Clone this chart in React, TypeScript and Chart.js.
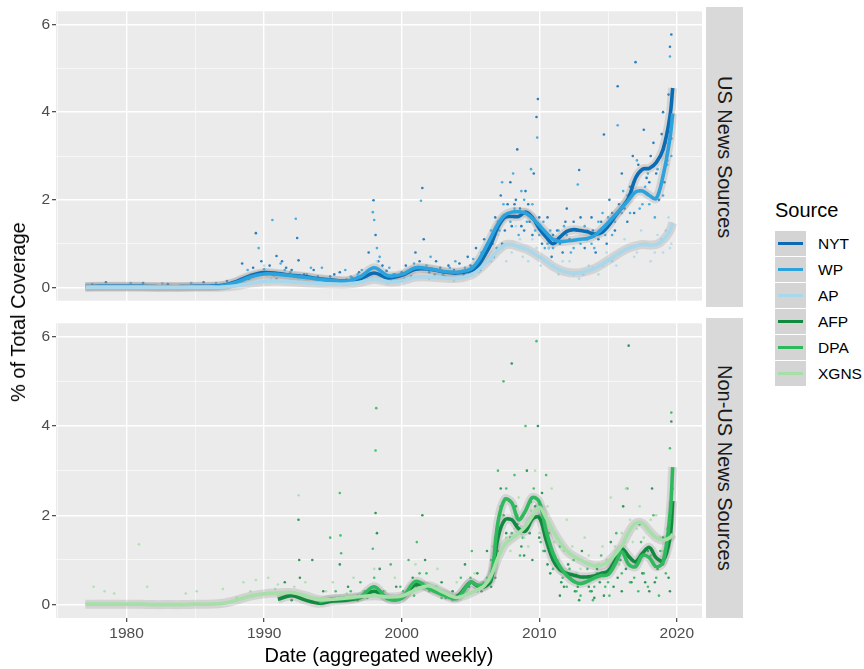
import React, { useEffect, useRef } from 'react';
import { Chart, registerables } from 'chart.js';
Chart.register(...registerables);

const FONT = '"Liberation Sans", Arial, Helvetica, sans-serif';

// x positions of the smoothed-line samples (years)
const years = [
  1977, 1978, 1979, 1980, 1981, 1982, 1983, 1984, 1985, 1986, 1987, 1988, 1989, 1990, 1991,
  1992, 1993, 1994, 1995, 1996, 1997, 1998, 1999, 2000, 2001, 2002, 2003, 2004, 2005,
  2005.5, 2006, 2006.5, 2007, 2007.5, 2008, 2008.5, 2009, 2009.5, 2010, 2010.5, 2011, 2011.5,
  2012, 2012.5, 2013, 2013.5, 2014, 2014.5, 2015, 2015.5, 2016, 2016.5, 2017, 2017.5, 2018,
  2018.5, 2019, 2019.5, 2019.7,
];

// US sources (smoothed % of coverage)
const nytLine = [
  0.02, 0.03, 0.03, 0.03, 0.03, 0.02, 0.02, 0.02, 0.03, 0.03, 0.05,
  0.14, 0.27, 0.34, 0.32, 0.28, 0.25, 0.20, 0.17, 0.15, 0.20, 0.33, 0.22, 0.28, 0.42, 0.42, 0.36, 0.33, 0.38,
  0.48, 0.72, 1.00, 1.38, 1.60, 1.62, 1.62, 1.72, 1.60, 1.35, 1.15, 1.00, 1.15, 1.28, 1.32, 1.30, 1.27,
  1.22, 1.25, 1.40, 1.62, 1.82, 2.05, 2.50, 2.70, 2.72, 2.85, 3.15, 3.90,
  4.55,
];
const wpLine = [
  0.01, 0.02, 0.02, 0.02, 0.02, 0.01, 0.01, 0.01, 0.02, 0.02, 0.04,
  0.12, 0.24, 0.31, 0.30, 0.27, 0.23, 0.19, 0.16, 0.15, 0.25, 0.45, 0.27, 0.30, 0.45, 0.43, 0.37, 0.35, 0.42,
  0.58, 0.85, 1.15, 1.45, 1.65, 1.72, 1.73, 1.70, 1.58, 1.42, 1.25, 1.10, 1.05, 1.06, 1.08, 1.10, 1.12,
  1.18, 1.32, 1.48, 1.65, 1.82, 2.00, 2.18, 2.20, 2.10, 2.03, 2.55, 3.40,
  3.97,
];
const apLine = [
  0.01, 0.01, 0.01, 0.01, 0.01, 0.01, 0.01, 0.01, 0.01, 0.01, 0.01,
  0.04, 0.10, 0.14, 0.15, 0.13, 0.11, 0.09, 0.08, 0.08, 0.12, 0.19, 0.13, 0.15, 0.24, 0.24, 0.22, 0.21, 0.28,
  0.38, 0.52, 0.68, 0.85, 0.97, 0.98, 0.93, 0.88, 0.80, 0.70, 0.60, 0.48, 0.40, 0.35, 0.33, 0.34, 0.38,
  0.43, 0.52, 0.62, 0.72, 0.82, 0.90, 0.95, 0.98, 0.97, 0.98, 1.08, 1.30,
  1.48,
];

// Non-US sources
const afpLine = [
  null, null, null, null, null, null, null, null, null, null, null, null, null, null,
  0.12, 0.20, 0.10, 0.03, 0.08, 0.10, 0.16, 0.30, 0.15, 0.15, 0.45, 0.38, 0.25, 0.18, 0.50,
  0.42, 0.40, 0.55, 1.50, 1.90, 1.90, 1.70, 1.65, 1.92, 1.95, 1.45, 1.00, 0.78, 0.70, 0.66, 0.62, 0.62,
  0.64, 0.70, 0.75, 0.98, 1.25, 1.08, 0.96, 1.15, 1.28, 1.05, 0.98, 1.50,
  2.32,
];
const dpaLine = [
  null, null, null, null, null, null, null, null, null, null, null, null, null, null, null, null, null,
  0.06, 0.13, 0.14, 0.18, 0.40, 0.13, 0.14, 0.52, 0.36, 0.22, 0.14, 0.50,
  0.44, 0.45, 0.62, 1.85, 2.36, 2.28, 1.90, 2.10, 2.40, 2.30, 1.65, 1.15, 0.85, 0.65, 0.52, 0.47, 0.52,
  0.60, 0.65, 0.67, 0.90, 1.18, 0.90, 0.85, 1.10, 1.05, 0.85, 0.95, 2.00,
  3.08,
];
const xgnsLine = [
  0.01, 0.01, 0.01, 0.01, 0.01, 0.00, 0.00, 0.00, 0.01, 0.01, 0.03,
  0.10, 0.19, 0.24, 0.26, 0.27, 0.20, 0.11, 0.12, 0.15, 0.18, 0.20, 0.17, 0.19, 0.33, 0.42, 0.28, 0.16, 0.26,
  0.33, 0.42, 0.65, 1.05, 1.35, 1.48, 1.60, 1.75, 1.98, 2.18, 1.95, 1.65, 1.40, 1.20, 1.08, 1.00, 0.92,
  0.87, 0.88, 0.96, 1.12, 1.32, 1.62, 1.82, 1.82, 1.65, 1.50, 1.44, 1.50,
  1.58,
];

const nytDots = [
  [1978.5, 0.12], [1981.2, 0.1], [1983.0, 0.08], [1985.6, 0.12], [1987.3, 0.15], [1988.4, 0.55], [1989.4, 1.24],
  [1989.8, 0.6], [1990.4, 0.5], [1990.9, 0.72], [1991.6, 0.45], [1992.4, 1.13], [1992.5, 0.62], [1993.6, 0.4],
  [1994.8, 0.25], [1995.5, 0.35], [1996.4, 0.22], [1997.6, 0.8], [1997.95, 1.99], [1998.1, 1.2], [1998.6, 0.5],
  [1999.5, 0.3], [2000.3, 0.5], [2001.0, 0.8], [2001.5, 2.27], [2001.6, 1.1], [2002.5, 0.6], [2003.4, 0.5],
  [2004.2, 0.55], [2004.8, 0.7], [2005.4, 0.9], [2006.0, 1.1], [2006.3, 0.6], [2006.8, 1.6], [2007.2, 2.1],
  [2007.5, 1.3], [2007.9, 2.4], [2008.2, 1.9], [2008.4, 3.15], [2008.7, 1.4], [2009.0, 2.2], [2009.3, 1.5],
  [2009.8, 3.89], [2009.9, 4.3], [2010.2, 1.0], [2010.6, 1.6], [2010.9, 0.7], [2011.3, 1.3], [2011.7, 0.8],
  [2012.0, 1.8], [2012.5, 1.5], [2012.9, 2.68], [2013.3, 0.9], [2013.8, 1.6], [2014.3, 1.1], [2014.7, 3.49],
  [2015.1, 2.0], [2015.5, 1.3], [2015.7, 4.59], [2016.0, 2.6], [2016.4, 1.5], [2016.8, 3.0], [2017.0, 5.14],
  [2017.3, 2.2], [2017.6, 3.6], [2018.0, 2.4], [2018.3, 3.3], [2018.7, 2.0], [2019.0, 4.0], [2019.3, 2.9],
  [2019.5, 5.49], [2019.6, 5.77], [2019.4, 4.4],
  [1988.9, 0.2], [1989.2, 0.45], [1989.9, 0.35], [1990.7, 0.28], [1991.3, 0.6], [1992.0, 0.4], [1992.9, 0.3],
  [1993.9, 0.25], [1994.4, 0.12], [1995.1, 0.3], [1996.0, 0.18], [1996.9, 0.35], [1997.3, 0.28], [1998.3, 0.6],
  [1998.9, 0.38], [1999.2, 0.15], [2000.0, 0.35], [2000.7, 0.25], [2001.3, 0.6], [2002.0, 0.35], [2002.8, 0.45],
  [2003.1, 0.25], [2003.8, 0.4], [2004.5, 0.3], [2005.0, 0.5], [2005.7, 0.4], [2006.1, 0.8], [2006.6, 1.0],
  [2007.0, 1.5], [2007.3, 1.0], [2007.7, 1.9], [2008.0, 1.4], [2008.3, 2.0], [2008.6, 1.8], [2008.9, 1.3],
  [2009.2, 1.9], [2009.5, 1.2], [2009.6, 2.6], [2010.0, 1.6], [2010.4, 1.2], [2010.7, 0.9], [2011.0, 1.2],
  [2011.5, 1.0], [2011.9, 1.5], [2012.2, 1.1], [2012.7, 1.3], [2013.0, 1.6], [2013.5, 1.1], [2013.9, 1.3],
  [2014.1, 0.8], [2014.5, 1.5], [2014.9, 1.0], [2015.3, 1.7], [2015.8, 1.9], [2016.2, 1.8], [2016.6, 2.3],
  [2016.9, 1.7], [2017.2, 2.8], [2017.8, 2.5], [2018.1, 3.0], [2018.5, 2.6], [2018.9, 3.5], [2019.1, 2.4],
  [2019.6, 3.4],
];
const wpDots = [
  [1977.5, 0.08], [1980.3, 0.1], [1982.6, 0.09], [1984.7, 0.1], [1986.5, 0.1], [1988.8, 0.4], [1989.6, 0.9],
  [1990.2, 0.3], [1990.6, 1.54], [1991.2, 0.55], [1991.9, 0.35], [1992.3, 1.57], [1993.1, 0.3], [1994.2, 0.45],
  [1995.9, 0.4], [1996.8, 0.3], [1997.9, 1.72], [1998.0, 1.54], [1998.4, 0.7], [1999.1, 0.45], [2000.5, 0.35],
  [2001.4, 1.98], [2002.1, 0.7], [2003.0, 0.3], [2003.9, 0.6], [2004.6, 0.45], [2005.2, 0.65], [2005.8, 0.8],
  [2006.5, 1.3], [2006.9, 0.9], [2007.3, 2.4], [2007.7, 1.7], [2008.1, 2.6], [2008.5, 1.2], [2008.9, 2.0],
  [2009.4, 2.7], [2009.7, 1.3], [2009.85, 3.42], [2010.4, 0.9], [2010.8, 1.3], [2011.2, 1.1], [2011.8, 1.4],
  [2012.3, 0.8], [2012.8, 2.35], [2013.5, 1.3], [2014.0, 0.9], [2014.6, 1.7], [2015.3, 1.2], [2015.7, 3.7],
  [2016.1, 2.2], [2016.6, 1.7], [2017.1, 2.9], [2017.5, 1.9], [2017.9, 2.6], [2018.4, 1.6], [2018.8, 2.3],
  [2019.2, 3.3], [2019.5, 5.27], [2019.6, 3.0],
  [1989.1, 0.3], [1990.0, 0.42], [1990.9, 0.2], [1991.5, 0.4], [1992.7, 0.25], [1993.4, 0.45], [1994.6, 0.2],
  [1995.3, 0.15], [1996.3, 0.25], [1997.1, 0.4], [1998.2, 0.9], [1999.4, 0.3], [2000.2, 0.2], [2000.9, 0.55],
  [2001.8, 0.5], [2002.4, 0.3], [2003.5, 0.45], [2004.1, 0.35], [2004.9, 0.3], [2005.5, 0.55], [2006.3, 1.0],
  [2006.7, 0.7], [2007.1, 1.3], [2007.4, 1.9], [2007.9, 1.5], [2008.2, 1.8], [2008.7, 2.2], [2009.1, 1.5],
  [2009.5, 1.9], [2010.0, 1.2], [2010.3, 1.5], [2010.6, 1.0], [2011.0, 0.9], [2011.4, 1.3], [2012.0, 1.2],
  [2012.5, 0.9], [2013.0, 1.0], [2013.3, 1.4], [2013.8, 1.0], [2014.3, 1.5], [2014.8, 1.2], [2015.0, 1.6],
  [2015.5, 1.5], [2016.0, 1.7], [2016.4, 2.1], [2016.9, 2.4], [2017.3, 1.8], [2017.7, 2.3], [2018.0, 1.9],
  [2018.6, 2.7], [2019.0, 2.1], [2019.3, 2.8],
];
const apDots = [
  [1978.0, 0.05], [1981.5, 0.06], [1984.0, 0.05], [1987.0, 0.06], [1989.0, 0.3], [1990.0, 0.5], [1991.5, 0.3],
  [1993.5, 0.2], [1996.0, 0.15], [1998.2, 0.6], [1999.8, 0.25], [2001.2, 0.5], [2003.2, 0.25], [2005.0, 0.3],
  [2006.2, 0.8], [2007.0, 1.2], [2007.6, 0.6], [2008.3, 1.4], [2008.8, 0.7], [2009.5, 1.1], [2010.1, 0.5],
  [2010.7, 0.9], [2011.4, 0.3], [2012.2, 0.6], [2012.9, 0.2], [2013.6, 0.5], [2014.3, 0.3], [2014.9, 0.8],
  [2015.6, 0.5], [2016.2, 1.1], [2016.9, 0.7], [2017.4, 1.3], [2018.1, 0.6], [2018.6, 1.2], [2019.0, 0.8],
  [2019.4, 1.6], [2019.6, 1.0],
  [1988.5, 0.1], [1990.5, 0.2], [1992.5, 0.15], [1994.5, 0.1], [1997.5, 0.2], [1999.0, 0.1], [2000.5, 0.2],
  [2002.0, 0.2], [2003.8, 0.15], [2005.6, 0.35], [2006.5, 0.6], [2007.3, 0.9], [2008.0, 0.8], [2008.6, 1.1],
  [2009.2, 0.6], [2009.8, 0.9], [2010.4, 0.6], [2011.0, 0.5], [2011.7, 0.6], [2012.5, 0.3], [2013.2, 0.3],
  [2013.9, 0.45], [2014.6, 0.5], [2015.3, 0.6], [2015.9, 0.8], [2016.6, 0.9], [2017.1, 0.8], [2017.8, 1.0],
  [2018.4, 0.8], [2018.9, 1.1], [2019.2, 1.3], [2019.5, 0.9],
];
const afpDots = [
  [1991.5, 0.5], [1992.5, 1.9], [1992.55, 1.0], [1992.6, 0.6], [1993.5, 1.0], [1994.3, 0.3], [1995.5, 0.9],
  [1996.1, 0.4], [1997.3, 0.3], [1998.1, 2.05], [1998.2, 1.6], [1998.4, 0.8], [1999.6, 0.4], [2000.8, 0.6],
  [2001.5, 2.0], [2001.7, 1.0], [2002.9, 0.5], [2003.7, 0.3], [2004.6, 0.9], [2005.5, 0.7], [2006.2, 1.2],
  [2006.8, 0.6], [2007.2, 2.6], [2007.6, 1.6], [2008.0, 5.4], [2008.3, 2.2], [2008.7, 1.3], [2009.1, 3.0],
  [2009.5, 1.0], [2009.9, 4.0], [2010.2, 2.5], [2010.6, 0.9], [2011.1, 1.6], [2011.6, 0.5], [2012.1, 0.9],
  [2012.6, 0.3], [2013.1, 1.2], [2013.6, 0.4], [2014.2, 0.8], [2014.7, 0.2], [2015.2, 1.4], [2015.7, 0.6],
  [2016.1, 2.2], [2016.5, 5.8], [2016.8, 1.0], [2017.3, 1.8], [2017.7, 0.5], [2018.2, 2.6], [2018.6, 0.8],
  [2019.0, 1.5], [2019.4, 0.6], [2019.6, 4.1],
  [1992.0, 0.1], [1992.9, 0.2], [1994.9, 0.1], [1995.8, 0.15], [1996.8, 0.1], [1997.8, 0.2], [1998.7, 0.3],
  [1999.3, 0.1], [2000.2, 0.2], [2001.1, 0.4], [2002.3, 0.3], [2003.2, 0.15], [2004.0, 0.2], [2004.9, 0.4],
  [2005.8, 0.3], [2006.5, 0.4], [2007.0, 1.2], [2007.4, 2.0], [2007.9, 1.5], [2008.4, 1.8], [2008.9, 1.1],
  [2009.3, 1.6], [2009.7, 2.2], [2010.0, 1.5], [2010.4, 1.2], [2010.8, 0.7], [2011.3, 0.9], [2011.8, 0.4],
  [2012.3, 0.6], [2012.8, 0.4], [2013.3, 0.5], [2013.8, 0.3], [2014.4, 0.5], [2014.9, 0.7], [2015.4, 0.4],
  [2015.9, 1.0], [2016.3, 0.8], [2016.7, 0.5], [2017.1, 1.0], [2017.5, 0.7], [2017.9, 1.2], [2018.4, 0.5],
  [2018.9, 0.9], [2019.2, 1.1], [2019.5, 0.3], [2012.9, 0.1], [2014.0, 0.15], [2016.0, 0.3], [2018.0, 0.3],
  [2011.5, 0.2],
];
const dpaDots = [
  [1994.8, 1.5], [1995.5, 2.5], [1995.55, 1.55], [1995.6, 1.15], [1996.3, 0.3], [1997.0, 0.5], [1997.9, 1.25],
  [1998.1, 3.45], [1998.15, 4.4], [1999.2, 0.9], [1999.9, 0.4], [2000.5, 1.0], [2001.1, 1.4], [2001.8, 0.7],
  [2002.5, 0.4], [2003.4, 0.2], [2004.3, 0.6], [2005.1, 1.2], [2005.9, 0.5], [2006.5, 1.0], [2007.0, 3.0],
  [2007.4, 5.0], [2007.8, 1.9], [2008.2, 2.9], [2008.6, 1.1], [2009.0, 4.0], [2009.4, 2.3], [2009.8, 5.9],
  [2010.1, 1.4], [2010.5, 2.9], [2011.0, 0.8], [2011.5, 1.3], [2012.0, 0.4], [2012.5, 1.0], [2013.0, 0.2],
  [2013.5, 0.8], [2014.0, 0.4], [2014.5, 1.1], [2015.0, 0.5], [2015.6, 1.6], [2016.0, 0.7], [2016.4, 2.6],
  [2016.9, 0.6], [2017.4, 1.4], [2017.9, 0.4], [2018.3, 2.0], [2018.8, 1.2], [2019.2, 0.7], [2019.5, 3.5],
  [2019.6, 4.3],
  [1994.5, 0.1], [1995.2, 0.3], [1996.0, 0.1], [1996.8, 0.2], [1997.5, 0.15], [1998.0, 0.6], [1998.5, 0.2],
  [1999.5, 0.15], [2000.1, 0.3], [2000.9, 0.2], [2001.3, 0.7], [2002.0, 0.3], [2002.9, 0.15], [2003.7, 0.1],
  [2004.5, 0.3], [2005.0, 0.6], [2005.5, 0.3], [2006.2, 0.6], [2006.8, 1.5], [2007.2, 2.2], [2007.6, 2.6],
  [2008.0, 1.6], [2008.4, 2.0], [2008.8, 1.5], [2009.2, 1.8], [2009.6, 2.6], [2010.0, 2.0], [2010.3, 1.2],
  [2010.7, 1.6], [2011.2, 1.0], [2011.7, 0.6], [2012.2, 0.8], [2012.7, 0.3], [2013.2, 0.6], [2013.7, 0.3],
  [2014.2, 0.7], [2014.8, 0.4], [2015.3, 0.8], [2015.8, 1.1], [2016.2, 1.4], [2016.6, 0.5], [2017.0, 0.9],
  [2017.6, 0.7], [2018.1, 1.1], [2018.5, 0.6], [2019.0, 0.9], [2019.3, 1.7], [2019.7, 2.6], [2013.9, 0.1],
  [2015.1, 0.2], [2017.2, 0.3], [2018.7, 0.2],
];
const xgnsDots = [
  [1977.6, 0.4], [1978.4, 0.3], [1979.1, 0.25], [1980.9, 1.35], [1981.5, 0.4], [1984.3, 0.25], [1985.1, 0.3],
  [1987.0, 0.35], [1988.5, 0.5], [1989.4, 0.55], [1990.3, 0.6], [1991.0, 0.45], [1992.5, 2.45], [1993.0, 0.5],
  [1995.0, 0.5], [1996.5, 0.6], [1998.0, 0.8], [1999.5, 0.6], [2001.0, 0.9], [2002.6, 0.8], [2004.0, 0.5],
  [2005.3, 0.7], [2006.6, 1.3], [2007.3, 2.0], [2007.9, 1.2], [2008.5, 2.4], [2009.2, 1.3], [2009.7, 3.0],
  [2010.3, 1.8], [2010.9, 2.6], [2011.4, 1.0], [2012.0, 1.9], [2012.7, 0.7], [2013.3, 1.5], [2014.0, 0.6],
  [2014.6, 1.3], [2015.2, 2.4], [2015.8, 0.9], [2016.3, 2.6], [2016.8, 1.4], [2017.3, 2.2], [2017.8, 1.1],
  [2018.5, 2.0], [2019.0, 1.2], [2019.6, 2.2],
  [1988.0, 0.15], [1989.0, 0.3], [1990.8, 0.35], [1991.6, 0.2], [1992.2, 0.4], [1993.8, 0.15], [1994.5, 0.3],
  [1996.0, 0.25], [1997.2, 0.3], [1998.8, 0.3], [1999.9, 0.15], [2000.6, 0.35], [2001.6, 0.5], [2002.2, 0.3],
  [2003.3, 0.2], [2004.6, 0.3], [2005.8, 0.5], [2006.2, 0.4], [2006.9, 0.9], [2007.6, 1.5], [2008.2, 1.7],
  [2008.9, 1.5], [2009.4, 2.1], [2010.0, 1.6], [2010.6, 2.2], [2011.1, 1.4], [2011.8, 1.2], [2012.4, 1.3],
  [2013.0, 0.8], [2013.6, 1.1], [2014.3, 0.9], [2014.9, 1.0], [2015.5, 1.3], [2016.0, 1.6], [2016.6, 1.9],
  [2017.1, 1.7], [2017.6, 1.5], [2018.1, 1.9], [2018.8, 1.5], [2019.3, 1.7],
];

const sources = ['NYT', 'WP', 'AP', 'AFP', 'DPA', 'XGNS'];
const colors = ['#0b6cb4', '#2ca3dc', '#a9d8ec', '#118a40', '#2db95c', '#a6dfa8'];
const xTicks = [1975, 1980, 1985, 1990, 1995, 2000, 2005, 2010, 2015, 2020];
const yTicks = [0, 1, 2, 3, 4, 5, 6];
const xLabelEvery = 10;
const yLabelEvery = 2;

const X_MIN = 1974.87;
const X_MAX = 2021.83;
const Y_MIN = -0.3;
const Y_MAX = 6.3;

function linePts(vals: (number | null)[]) {
  return years.map((x, i) => ({ x, y: vals[i] })).filter((p) => p.y !== null);
}
function dotPts(arr: number[][]) {
  return arr.map(([x, y]) => ({ x, y }));
}
function hexA(hex: string, a: number) {
  const n = parseInt(hex.slice(1), 16);
  return `rgba(${(n >> 16) & 255},${(n >> 8) & 255},${n & 255},${a})`;
}

const bgPlugin = {
  id: 'panelBg',
  beforeDraw(chart: any) {
    const { ctx, chartArea: a } = chart;
    ctx.save();
    ctx.fillStyle = '#EBEBEB';
    ctx.fillRect(a.left, a.top, a.right - a.left, a.bottom - a.top);
    ctx.restore();
  },
};

function buildDatasets(lines: (number | null)[][], dots: number[][][], cols: string[]) {
  const ds: any[] = [];
  dots.forEach((d, i) => {
    ds.push({
      type: 'scatter',
      data: dotPts(d),
      showLine: false,
      pointRadius: 1.3,
      pointBorderWidth: 0,
      pointBackgroundColor: hexA(cols[i], 0.85),
      order: 40 - i,
    });
  });
  lines.forEach((l, i) => {
    ds.push({
      type: 'scatter',
      data: linePts(l),
      showLine: true,
      borderColor: 'rgba(150,150,150,0.28)',
      borderWidth: 9,
      pointRadius: 0,
      tension: 0.35,
      order: 20 - i,
    });
  });
  lines.forEach((l, i) => {
    ds.push({
      type: 'scatter',
      data: linePts(l),
      showLine: true,
      borderColor: cols[i],
      borderWidth: 3.6,
      pointRadius: 0,
      tension: 0.35,
      order: 10 - i,
    });
  });
  return ds;
}

function makeOptions(showX: boolean, padTop: number): any {
  const isMajorX = (v: number) => v % xLabelEvery === 0;
  const isMajorY = (v: number) => v % yLabelEvery === 0;
  return {
    animation: false,
    responsive: false,
    events: [],
    layout: { padding: { top: padTop, left: 0, right: 0, bottom: 0 } },
    plugins: { legend: { display: false }, tooltip: { enabled: false } },
    scales: {
      x: {
        type: 'linear',
        min: X_MIN,
        max: X_MAX,
        afterBuildTicks: (s: any) => {
          s.ticks = xTicks.map((v) => ({ value: v }));
        },
        afterFit: (s: any) => {
          s.height = showX ? 51 : 5;
        },
        border: { display: false },
        grid: {
          color: '#FFFFFF',
          lineWidth: (c: any) => (c.tick && isMajorX(c.tick.value) ? 1.4 : 0.6),
          drawTicks: showX,
          tickLength: 4,
          tickWidth: 1.1,
          tickColor: (c: any) => (c.tick && isMajorX(c.tick.value) ? '#333333' : 'rgba(0,0,0,0)'),
        },
        ticks: {
          display: showX,
          autoSkip: false,
          maxRotation: 0,
          padding: 2,
          color: '#4D4D4D',
          font: { family: FONT, size: 15.5 },
          callback: (v: number) => (isMajorX(v) ? String(v) : ''),
        },
        title: {
          display: showX,
          text: 'Date (aggregated weekly)',
          color: '#000000',
          font: { family: FONT, size: 20 },
          padding: { top: 0, bottom: 1 },
        },
      },
      y: {
        type: 'linear',
        min: Y_MIN,
        max: Y_MAX,
        afterBuildTicks: (s: any) => {
          s.ticks = yTicks.map((v) => ({ value: v }));
        },
        afterFit: (s: any) => {
          s.width = 56;
        },
        border: { display: false },
        grid: {
          color: '#FFFFFF',
          lineWidth: (c: any) => (c.tick && isMajorY(c.tick.value) ? 1.4 : 0.6),
          tickLength: 4,
          tickWidth: 1.1,
          tickColor: (c: any) => (c.tick && isMajorY(c.tick.value) ? '#333333' : 'rgba(0,0,0,0)'),
        },
        ticks: {
          padding: 2,
          color: '#4D4D4D',
          font: { family: FONT, size: 15.5 },
          callback: (v: number) => (isMajorY(v) ? String(v) : ''),
        },
      },
    },
  };
}

function Panel({ lines, dots, cols, showX, top, height, padTop }: any) {
  const ref = useRef<HTMLCanvasElement>(null);
  useEffect(() => {
    if (!ref.current) return;
    const chart = new Chart(ref.current, {
      type: 'scatter',
      data: { datasets: buildDatasets(lines, dots, cols) },
      options: makeOptions(showX, padTop),
      plugins: [bgPlugin],
    } as any);
    return () => chart.destroy();
  }, []);
  return (
    <canvas
      ref={ref}
      width={706}
      height={height}
      style={{ position: 'absolute', left: 0, top, width: 706, height }}
    />
  );
}

function Strip({ top, text }: { top: number; text: string }) {
  return (
    <div
      style={{
        position: 'absolute',
        left: 706,
        top,
        width: 37,
        height: 300,
        background: '#D9D9D9',
        display: 'flex',
        alignItems: 'center',
        justifyContent: 'center',
      }}
    >
      <span style={{ writingMode: 'vertical-rl', fontSize: 20, color: '#1A1A1A', whiteSpace: 'nowrap' }}>{text}</span>
    </div>
  );
}

export default function App() {
  return (
    <div
      style={{
        position: 'absolute',
        left: 0,
        top: 0,
        width: 864,
        height: 669,
        background: '#FFFFFF',
        fontFamily: FONT,
        overflow: 'hidden',
      }}
    >
      <Panel
        lines={[nytLine, wpLine, apLine]}
        dots={[nytDots, wpDots, apDots]}
        cols={colors.slice(0, 3)}
        showX={false}
        top={0}
        height={312}
        padTop={7}
      />
      <Panel
        lines={[afpLine, dpaLine, xgnsLine]}
        dots={[afpDots, dpaDots, xgnsDots]}
        cols={colors.slice(3, 6)}
        showX={true}
        top={312}
        height={357}
        padTop={6}
      />
      <Strip top={7} text="US News Sources" />
      <Strip top={318} text="Non-US News Sources" />
      <div
        style={{
          position: 'absolute',
          left: 18,
          top: 312,
          transform: 'translate(-50%, -50%) rotate(-90deg)',
          whiteSpace: 'nowrap',
          fontSize: 20,
          lineHeight: '24px',
          color: '#000',
        }}
      >
        % of Total Coverage
      </div>
      <div style={{ position: 'absolute', left: 775, top: 198, fontSize: 20, lineHeight: '24px', color: '#000' }}>
        Source
      </div>
      {sources.map((s, i) => (
        <React.Fragment key={s}>
          <div
            style={{
              position: 'absolute',
              left: 775,
              top: 231 + i * 26,
              width: 31,
              height: 25,
              background: '#D4D4D4',
            }}
          >
            <div
              style={{
                position: 'absolute',
                left: 3,
                top: 11,
                width: 25,
                height: 3,
                background: colors[i],
              }}
            />
          </div>
          <div
            style={{
              position: 'absolute',
              left: 818,
              top: 231 + i * 26,
              height: 25,
              lineHeight: '25px',
              fontSize: 15.5,
              color: '#000',
            }}
          >
            {s}
          </div>
        </React.Fragment>
      ))}
    </div>
  );
}
